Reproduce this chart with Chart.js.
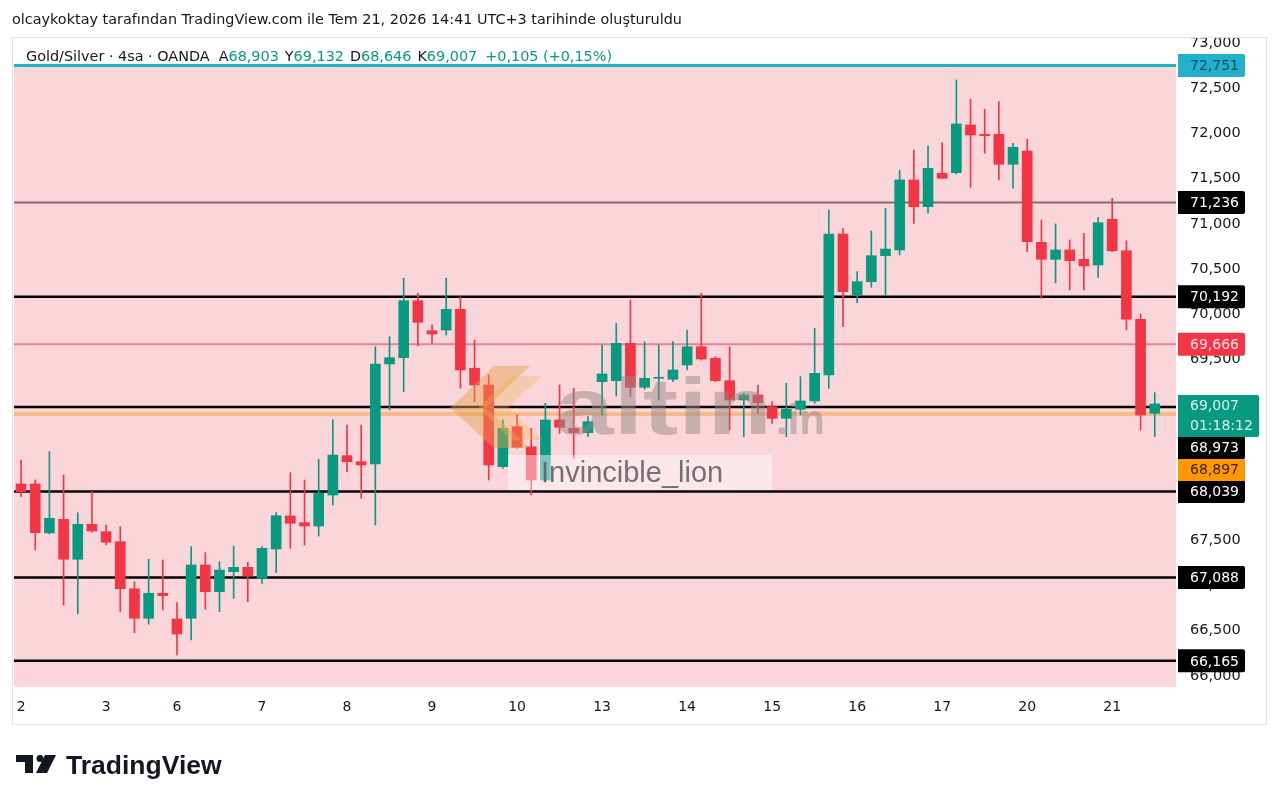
<!DOCTYPE html>
<html>
<head>
<meta charset="utf-8">
<script src="https://cdn.jsdelivr.net/npm/chart.js@4.4.1/dist/chart.umd.min.js"></script>
<style>
  html, body { margin: 0; padding: 0; background: #fff; }
  canvas { display: block; }
</style>
</head>
<body>
<canvas id="goldSilverChart" width="1280" height="806"></canvas>
<script>
// Gold/Silver 4h candles
const dayNames = ['2', '3', '6', '7', '8', '9', '10', '13', '14', '15', '16', '17', '20', '21'];
const candlesPerDay = [6, 5, 6, 6, 6, 6, 6, 6, 6, 6, 6, 6, 6, 4];

const opens = [68122, 68122, 67580, 67731, 67289, 67676, 67594, 67483, 66963, 66636,
    66913, 66628, 66636, 67226, 66930, 67151, 67200, 67078, 67403, 67768,
    67694, 67657, 68000, 68435, 68368, 68343, 69449, 69519, 70149, 69817,
    69825, 70054, 69402, 69217, 68313, 68756, 68534, 68166, 68830, 68738,
    68689, 69253, 69264, 69678, 69191, 69291, 69280, 69438, 69640, 69512,
    69264, 69051, 69106, 68977, 68848, 68948, 69040, 69327, 70887, 70212,
    70359, 70647, 70710, 71485, 71189, 71559, 71565, 72093, 71990, 71990,
    71658, 71805, 70795, 70607, 70710, 70607, 70544, 71050, 70702, 69944,
    68903];
const highs = [68387, 68166, 68479, 68221, 67804, 68037, 67668, 67649, 67041, 67289,
    67281, 66809, 67428, 67362, 67262, 67436, 67256, 67428, 67804, 68247,
    68166, 68395, 68830, 68774, 68774, 69640, 69751, 70397, 70231, 69881,
    70397, 70194, 69715, 69327, 68830, 68885, 68738, 69014, 69217, 69180,
    68866, 69659, 69899, 70157, 69696, 69659, 69696, 69825, 70231, 69530,
    69640, 69125, 69217, 69032, 69236, 69309, 69844, 71153, 70950, 70470,
    70920, 71171, 71595, 71816, 71861, 71897, 72591, 72377, 72267, 72351,
    71890, 71935, 71042, 70998, 70821, 70895, 71072, 71282, 70813, 70002,
    69132];
const lows = [67981, 67392, 67570, 66783, 66684, 67590, 67447, 66709, 66477, 66570,
    66728, 66230, 66396, 66735, 66709, 66857, 66820, 67023, 67140, 67410,
    67447, 67546, 67889, 68258, 67963, 67668, 68940, 69143, 69648, 69678,
    69770, 69180, 69032, 68166, 68295, 68517, 68000, 68140, 68682, 68406,
    68645, 68885, 69095, 69088, 69169, 69051, 69253, 69383, 69493, 69253,
    68719, 68645, 68904, 68793, 68645, 68885, 69014, 69180, 69862, 70127,
    70298, 70212, 70655, 71005, 71116, 71500, 71551, 71404, 71780, 71485,
    71393, 70691, 70176, 70348, 70268, 70268, 70408, 70690, 69825, 68719,
    68646];
const closes = [68037, 67583, 67742, 67289, 67676, 67602, 67477, 66963, 66636, 66913,
    66886, 66462, 67226, 66930, 67170, 67200, 67104, 67410, 67771, 67687,
    67657, 68019, 68442, 68368, 68332, 69449, 69519, 70149, 69910, 69781,
    70054, 69383, 69217, 68332, 68738, 68528, 68166, 68830, 68749, 68689,
    68811, 69338, 69678, 69191, 69291, 69300, 69383, 69640, 69504, 69264,
    69051, 69106, 69021, 68848, 68948, 69040, 69346, 70887, 70249, 70359,
    70647, 70721, 71485, 71189, 71614, 71503, 72104, 71982, 71975, 71658,
    71846, 70802, 70607, 70710, 70592, 70533, 71012, 70702, 69944, 68885,
    69007];

// horizontal levels drawn on the chart
const levelPrices = [72751, 71236, 70192, 69666, 68973, 68897, 68039, 67088, 66165];
const lastPrice = 69007;
const countdown = '01:18:12';

// price axis
const yMin = 65876;
const yMax = 73055;
const priceTicks = [66000, 66500, 67000, 67500, 68000, 68500, 69000, 69500,
    70000, 70500, 71000, 71500, 72000, 72500, 73000];

const GREEN = '#089981';
const RED = '#f23645';
const TEXT = '#131722';
const FONT = '"DejaVu Sans", sans-serif';

// one label per candle, plus an empty slot on the right
const candleLabels = [];
dayNames.forEach((d, i) => {
    for (let k = 0; k < candlesPerDay[i]; k++) candleLabels.push(d);
});
candleLabels.push('');

const wickData = lows.map((l, i) => [l, highs[i]]);
const bodyData = opens.map((o, i) => [o, closes[i]]);
const candleColor = c => closes[c.dataIndex] >= opens[c.dataIndex] ? GREEN : RED;

const levelStyles = {
    72751: { color: '#22b0cb', width: 3 },
    71236: { color: '#7f6d70', width: 2 },
    70192: { color: '#000000', width: 2.5 },
    69666: { color: '#e4868e', width: 2 },
    68973: { color: '#000000', width: 2.5 },
    68897: { color: 'rgba(246,176,110,0.75)', width: 4 },
    68039: { color: '#000000', width: 2.5 },
    67088: { color: '#000000', width: 2.5 },
    66165: { color: '#000000', width: 2.5 }
};

function fmt(v) {
    return v.toLocaleString('en-US');
}

const backdrop = {
    id: 'backdrop',
    beforeDraw(chart) {
        const c = chart.ctx, a = chart.chartArea, y = chart.scales.y;
        c.save();
        c.fillStyle = '#ffffff';
        c.fillRect(0, 0, chart.width, chart.height);
        const top = y.getPixelForValue(levelPrices[0]);
        c.fillStyle = '#fad6db';
        c.fillRect(a.left, top, a.right - a.left, a.bottom - top);
        c.restore();
    },
    beforeDatasetsDraw(chart) {
        const c = chart.ctx, a = chart.chartArea, y = chart.scales.y;
        c.save();
        levelPrices.forEach(p => {
            const s = levelStyles[p];
            const py = y.getPixelForValue(p);
            c.strokeStyle = s.color;
            c.lineWidth = s.width;
            c.beginPath();
            c.moveTo(a.left, py);
            c.lineTo(a.right, py);
            c.stroke();
        });
        c.restore();
    }
};

const watermark = {
    id: 'watermark',
    afterDatasetsDraw(chart) {
        const c = chart.ctx;
        c.save();
        // altin.in logo mark
        c.fillStyle = 'rgba(228,160,72,0.45)';
        c.beginPath();
        c.moveTo(450, 408); c.lineTo(494, 366); c.lineTo(530, 366); c.lineTo(486, 408);
        c.lineTo(530, 448); c.lineTo(494, 448); c.closePath();
        c.fill();
        c.fillStyle = 'rgba(238,180,90,0.35)';
        c.beginPath();
        c.moveTo(478, 408); c.lineTo(512, 376); c.lineTo(542, 376); c.lineTo(508, 408);
        c.lineTo(542, 440); c.lineTo(512, 440); c.closePath();
        c.fill();
        c.fillStyle = 'rgba(150,136,134,0.5)';
        c.font = 'bold 80px "Liberation Sans", sans-serif';
        c.textBaseline = 'alphabetic';
        c.save();
        c.translate(555, 434);
        c.scale(1.32, 1);
        c.fillText('altin', 0, 0);
        c.restore();
        c.font = 'bold 42px "Liberation Sans", sans-serif';
        c.fillText('.in', 776, 434);
        // signature box
        c.fillStyle = 'rgba(255,255,255,0.45)';
        c.fillRect(508, 455, 264, 35);
        c.fillStyle = 'rgba(90,90,90,0.85)';
        c.font = '29px "Liberation Sans", sans-serif';
        c.fillText('Invincible_lion', 541, 482);
        c.restore();
    }
};

const overlay = {
    id: 'overlay',
    afterDraw(chart) {
        const c = chart.ctx, y = chart.scales.y, a = chart.chartArea;
        c.save();
        // panel border
        c.strokeStyle = '#e0e3eb';
        c.lineWidth = 1;
        c.strokeRect(12.5, 37.5, 1254, 687);

        // price tags on the axis
        const tagX = a.right + 2;
        const tags = levelPrices.map(p => {
            let bg = '#000000', fg = '#ffffff';
            if (p === 72751) { bg = '#22b0cb'; fg = '#0f4f66'; }
            if (p === 69666) { bg = '#f23645'; fg = '#ffe3e6'; }
            if (p === 68897) { bg = '#ff9800'; fg = '#3a2000'; }
            return { price: p, text: [fmt(p)], bg, fg, w: 67, h: 23 };
        });
        tags.push({ price: lastPrice, text: [fmt(lastPrice), countdown], bg: GREEN, fg: '#d8f3ec', w: 81, h: 42 });
        tags.sort((p, q) => p.price - q.price);
        // labels in the crowded block sit one above another
        let prevTop = null;
        tags.forEach(t => {
            const cy = y.getPixelForValue(t.price);
            t.top = cy - t.h / 2;
            if (prevTop !== null && t.price > 68039 && t.price < 69100) {
                t.top = prevTop - t.h + 1;
            }
            prevTop = t.top;
        });
        c.font = '14px ' + FONT;
        c.textBaseline = 'middle';
        c.textAlign = 'left';
        tags.forEach(t => {
            c.fillStyle = t.bg;
            c.beginPath();
            c.roundRect(tagX, t.top, t.w, t.h, [0, 2, 2, 0]);
            c.fill();
            c.fillStyle = t.fg;
            if (t.text.length === 1) {
                c.fillText(t.text[0], tagX + 12, t.top + t.h / 2 + 1);
            } else {
                c.fillText(t.text[0], tagX + 12, t.top + 11);
                c.fillText(t.text[1], tagX + 12, t.top + 31);
            }
        });

        // title line
        c.fillStyle = TEXT;
        c.font = '14.4px ' + FONT;
        c.fillText('olcaykoktay tarafından TradingView.com ile Tem 21, 2026 14:41 UTC+3 tarihinde oluşturuldu', 12, 20);

        // legend line
        let x = 26;
        const ly = 57;
        const parts = [
            ['Gold/Silver · 4sa · OANDA', TEXT, 9],
            ['A', TEXT, 0], [fmt(opens[opens.length - 1]), GREEN, 6],
            ['Y', TEXT, 0], [fmt(highs[highs.length - 1]), GREEN, 6],
            ['D', TEXT, 0], [fmt(lows[lows.length - 1]), GREEN, 6],
            ['K', TEXT, 0], [fmt(closes[closes.length - 1]), GREEN, 8],
            ['+0,105 (+0,15%)', GREEN, 0]
        ];
        c.font = '14.4px ' + FONT;
        parts.forEach(([s, col, gap]) => {
            c.fillStyle = col;
            c.fillText(s, x, ly);
            x += c.measureText(s).width + gap;
        });

        // TradingView logo
        c.fillStyle = TEXT;
        c.fillRect(16, 755, 17, 7);
        c.fillRect(25, 755, 8, 18);
        c.beginPath();
        c.arc(40, 758.5, 3.5, 0, Math.PI * 2);
        c.fill();
        c.beginPath();
        c.moveTo(45, 755); c.lineTo(56, 755); c.lineTo(47, 773); c.lineTo(36, 773);
        c.closePath();
        c.fill();
        c.font = 'bold 26.5px "Liberation Sans", sans-serif';
        c.textBaseline = 'alphabetic';
        c.fillText('TradingView', 66, 774);
        c.restore();
    }
};

const ctx = document.getElementById('goldSilverChart').getContext('2d');
new Chart(ctx, {
    type: 'bar',
    data: {
        labels: candleLabels,
        datasets: [{
            label: 'wick',
            data: wickData,
            backgroundColor: candleColor,
            barThickness: 1,
            grouped: false,
            order: 2
        }, {
            label: 'body',
            data: bodyData,
            backgroundColor: candleColor,
            barThickness: 10,
            minBarLength: 1,
            grouped: false,
            order: 1
        }]
    },
    options: {
        responsive: false,
        animation: false,
        layout: { padding: { left: 14, top: 38, right: 14, bottom: 82 } },
        plugins: {
            legend: { display: false },
            tooltip: { enabled: false }
        },
        scales: {
            x: {
                grid: { display: false, drawTicks: false },
                border: { display: false },
                ticks: {
                    autoSkip: false,
                    maxRotation: 0,
                    padding: 12,
                    color: TEXT,
                    font: { family: FONT, size: 14 },
                    callback: function(v, i) {
                        if (i === 0 || candleLabels[i] !== candleLabels[i - 1]) return candleLabels[i];
                        return '';
                    }
                },
                afterFit: s => { s.height = 37; }
            },
            y: {
                type: 'linear',
                position: 'right',
                min: yMin,
                max: yMax,
                grid: { display: false, drawTicks: false },
                border: { display: false },
                afterBuildTicks: s => { s.ticks = priceTicks.map(v => ({ value: v })); },
                ticks: {
                    autoSkip: false,
                    padding: 14,
                    color: TEXT,
                    font: { family: FONT, size: 14.5 },
                    callback: v => fmt(v)
                },
                afterFit: s => { s.width = 90; }
            }
        }
    },
    plugins: [backdrop, watermark, overlay]
});
</script>
</body>
</html>
